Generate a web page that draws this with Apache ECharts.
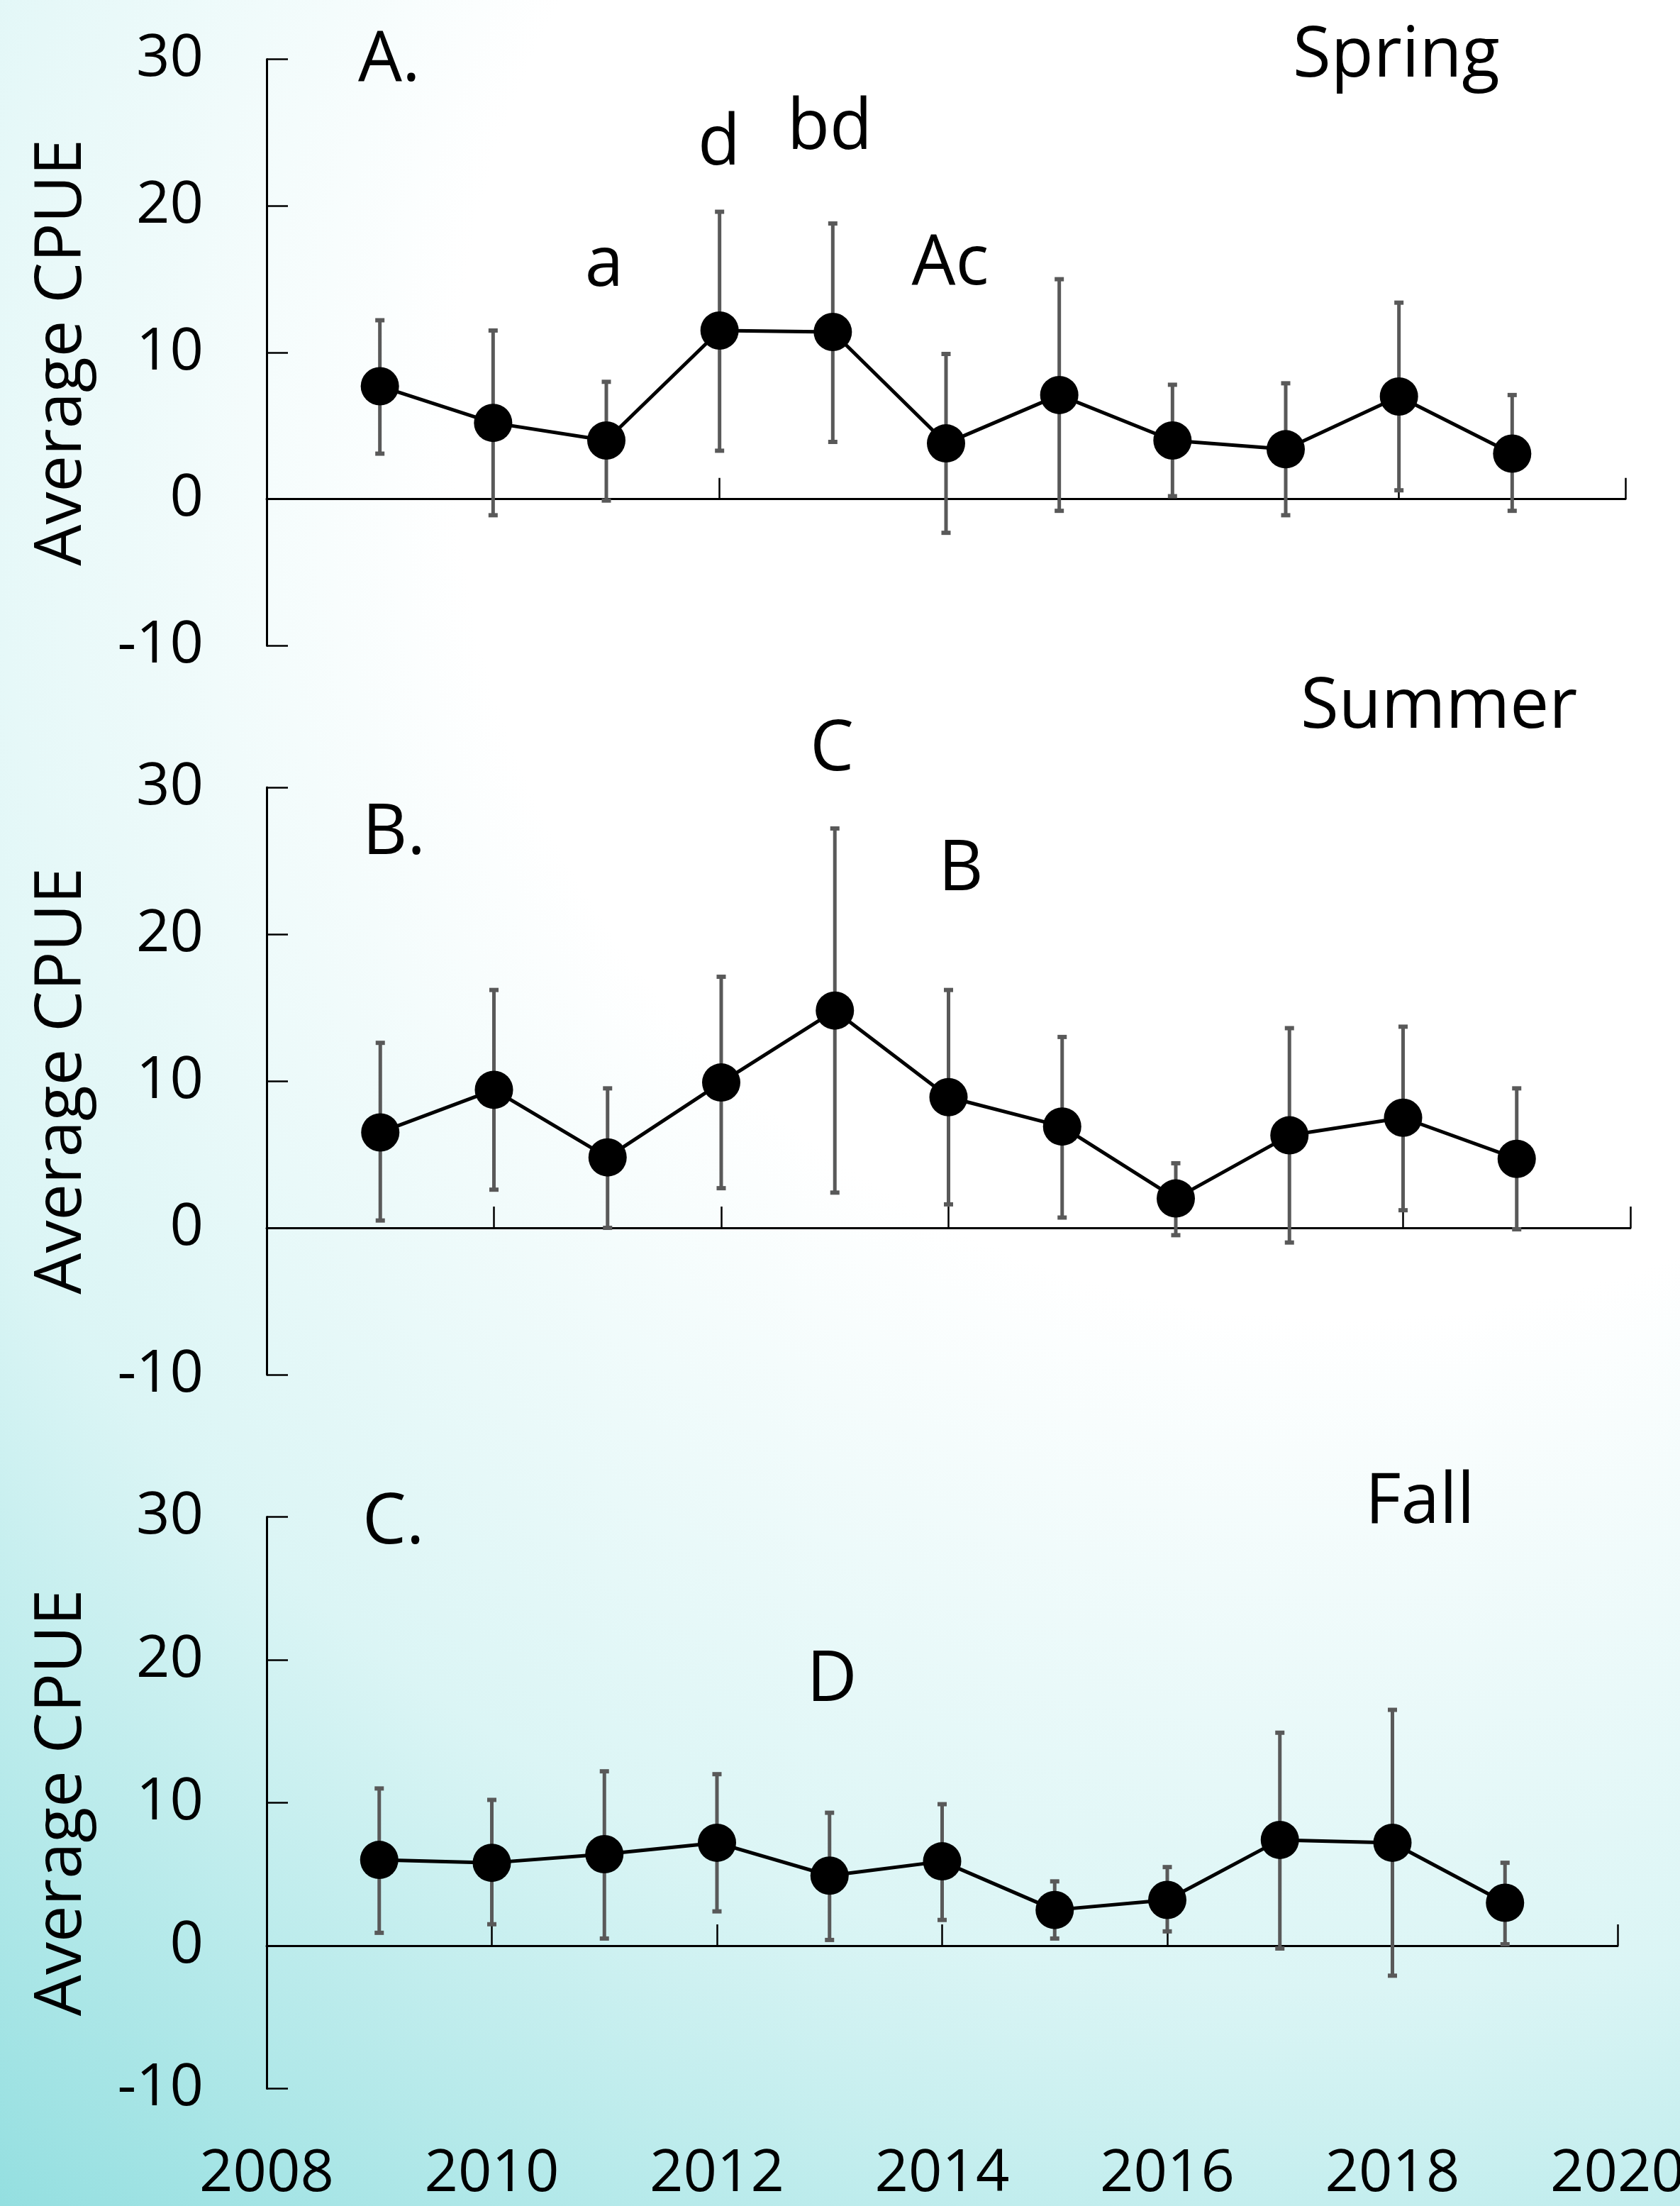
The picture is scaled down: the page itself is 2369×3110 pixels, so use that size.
<!DOCTYPE html>
<html><head><meta charset="utf-8">
<script src="https://cdn.jsdelivr.net/npm/echarts@6/dist/echarts.min.js"></script>
<style>html,body{margin:0;padding:0;background:#fff}#c{width:2369px;height:3110px}</style>
</head><body><div id="c"></div>
<script>
// ---------- data ----------
const years = [2009, 2010, 2011, 2012, 2013, 2014, 2015, 2016, 2017, 2018, 2019];
const springMean = [7.7, 5.2, 4.0, 11.5, 11.4, 3.8, 7.1, 4.0, 3.4, 7.0, 3.1];
const springHigh = [12.2, 11.5, 8.0, 19.6, 18.8, 9.9, 15.0, 7.8, 7.9, 13.4, 7.1];
const springLow  = [3.1, -1.1, -0.1, 3.3, 3.9, -2.3, -0.8, 0.2, -1.1, 0.6, -0.8];
const summerMean = [6.5, 9.4, 4.8, 9.9, 14.8, 8.9, 6.9, 2.0, 6.3, 7.5, 4.7];
const summerHigh = [12.6, 16.2, 9.5, 17.1, 27.2, 16.2, 13.0, 4.4, 13.6, 13.7, 9.5];
const summerLow  = [0.5, 2.6, 0.0, 2.7, 2.4, 1.6, 0.7, -0.5, -1.0, 1.2, -0.1];
const fallMean = [6.0, 5.8, 6.4, 7.2, 4.9, 5.9, 2.5, 3.2, 7.4, 7.2, 3.0];
const fallHigh = [11.0, 10.2, 12.2, 12.0, 9.3, 9.9, 4.5, 5.5, 14.9, 16.5, 5.8];
const fallLow  = [0.9, 1.5, 0.5, 2.4, 0.4, 1.8, 0.5, 1.0, -0.2, -2.1, 0.1];
const yMin = -10, yMax = 30, yStep = 10;
const xMin = 2008, xMax = 2020, xStep = 2;
const yTitle = 'Average CPUE';
const panelLetters = ['A.', 'B.', 'C.'];
const seasonNames = ['Spring', 'Summer', 'Fall'];
const groupLetters = [
  ['a', 'd', 'bd', 'Ac'],
  ['C', 'B'],
  ['D']
];

// ---------- layout ----------
const FONT = 'Open Sans';
const grids = [
  {left: 376, top: 83.6, width: 1916, height: 826.7},
  {left: 376, top: 1110, width: 1923, height: 828},
  {left: 376, top: 2138.5, width: 1905, height: 806}
];
const annFS = 98;
// anchor x, baseline y
const annPos = [
  [[505, 124], [1823, 118], [[852, 413], [1014, 242], [1170, 220], [1340, 411]]],
  [[511, 1214], [1834, 1036], [[1173, 1096], [1355, 1265]]],
  [[511, 2186], [1925, 2157], [[1173, 2408]]]
];

const series = [
  {mean: springMean, high: springHigh, low: springLow},
  {mean: summerMean, high: summerHigh, low: summerLow},
  {mean: fallMean, high: fallHigh, low: fallLow}
];

function errRender(params, api) {
  const x = api.value(0), lo = api.value(1), hi = api.value(2);
  const pLo = api.coord([x, lo]);
  const pHi = api.coord([x, hi]);
  const col = '#595959';
  const cw = 13, ch = 6;
  return {
    type: 'group',
    children: [
      {type: 'line', shape: {x1: pLo[0], y1: pLo[1], x2: pHi[0], y2: pHi[1]}, style: {stroke: col, lineWidth: 5}},
      {type: 'rect', shape: {x: pHi[0] - cw / 2, y: pHi[1] - ch / 2, width: cw, height: ch}, style: {fill: col}},
      {type: 'rect', shape: {x: pLo[0] - cw / 2, y: pLo[1] - ch / 2, width: cw, height: ch}, style: {fill: col}}
    ]
  };
}

const option = {
  animation: false,
  grid: grids.map(g => Object.assign({containLabel: false, outerBoundsMode: 'none'}, g)),
  xAxis: [],
  yAxis: [],
  series: [],
  graphic: []
};

grids.forEach((g, i) => {
  option.xAxis.push({
    gridIndex: i, type: 'value', min: xMin, max: xMax, interval: xStep, position: 'bottom',
    axisLine: {show: true, onZero: true, lineStyle: {color: '#000', width: 3}},
    axisTick: {show: true, inside: true, length: 30, lineStyle: {color: '#000', width: 2.5}},
    axisLabel: {show: false},
    splitLine: {show: false}
  });
  option.yAxis.push({
    gridIndex: i, type: 'value', min: yMin, max: yMax, interval: yStep,
    axisLine: {show: true, onZero: false, lineStyle: {color: '#000', width: 3}},
    axisTick: {show: true, inside: true, length: 30, lineStyle: {color: '#000', width: 2.5}},
    axisLabel: {show: true, fontFamily: FONT, fontSize: 83, lineHeight: 83, color: '#000', margin: 89},
    splitLine: {show: false},
    name: yTitle, nameLocation: 'middle', nameGap: 242,
    nameTextStyle: {fontFamily: FONT, fontSize: 92, lineHeight: 92, color: '#000'}
  });
  const s = series[i];
  option.series.push({
    type: 'custom', xAxisIndex: i, yAxisIndex: i, z: 2,
    renderItem: errRender,
    encode: {x: 0, y: [1, 2]},
    data: years.map((y, k) => [y, s.low[k], s.high[k]])
  });
  option.series.push({
    type: 'line', xAxisIndex: i, yAxisIndex: i, z: 3,
    symbol: 'circle', symbolSize: 54,
    itemStyle: {color: '#000'},
    lineStyle: {color: '#000', width: 5},
    data: years.map((y, k) => [y, s.mean[k]])
  });

  // annotations
  const mid = fs => fs * 0.388;
  const font = annFS + 'px "' + FONT + '"';
  const p = annPos[i];
  option.graphic.push({type: 'text', x: p[0][0], y: p[0][1] - mid(annFS), z: 10,
    style: {text: panelLetters[i], font: font, fill: '#000', textAlign: 'left', textVerticalAlign: 'middle', align: 'left', verticalAlign: 'middle'}});
  option.graphic.push({type: 'text', x: p[1][0], y: p[1][1] - mid(annFS), z: 10,
    style: {text: seasonNames[i], font: font, fill: '#000', textAlign: 'left', textVerticalAlign: 'middle', align: 'left', verticalAlign: 'middle'}});
  groupLetters[i].forEach((t, k) => {
    option.graphic.push({type: 'text', x: p[2][k][0], y: p[2][k][1] - mid(annFS), z: 10,
      style: {text: t, font: font, fill: '#000', textAlign: 'center', textVerticalAlign: 'middle', align: 'center', verticalAlign: 'middle'}});
  });
});

// year labels under the bottom panel
option.xAxis.push({
  gridIndex: 2, type: 'value', min: xMin, max: xMax, interval: xStep, position: 'bottom',
  axisLine: {show: false, onZero: false},
  axisTick: {show: false},
  axisLabel: {show: true, fontFamily: FONT, fontSize: 83, lineHeight: 83, color: '#000', margin: 79,
    showMinLabel: true, showMaxLabel: true, hideOverlap: false, formatter: v => String(v)},
  splitLine: {show: false}
});

// background gradient
option.graphic.unshift({
  type: 'rect', z: -100, silent: true,
  shape: {x: 0, y: 0, width: 2369, height: 3110},
  style: {fill: new echarts.graphic.RadialGradient(1900, 600, 3148, [
    {offset: 0, color: '#ffffff'},
    {offset: 0.4, color: '#ffffff'},
    {offset: 0.7, color: '#dbf5f5'},
    {offset: 1, color: '#94dfe0'}
  ], true)}
});

const chart = echarts.init(document.getElementById('c'), null, {renderer: 'canvas', width: 2369, height: 3110});
chart.setOption(option);
</script></body></html>
